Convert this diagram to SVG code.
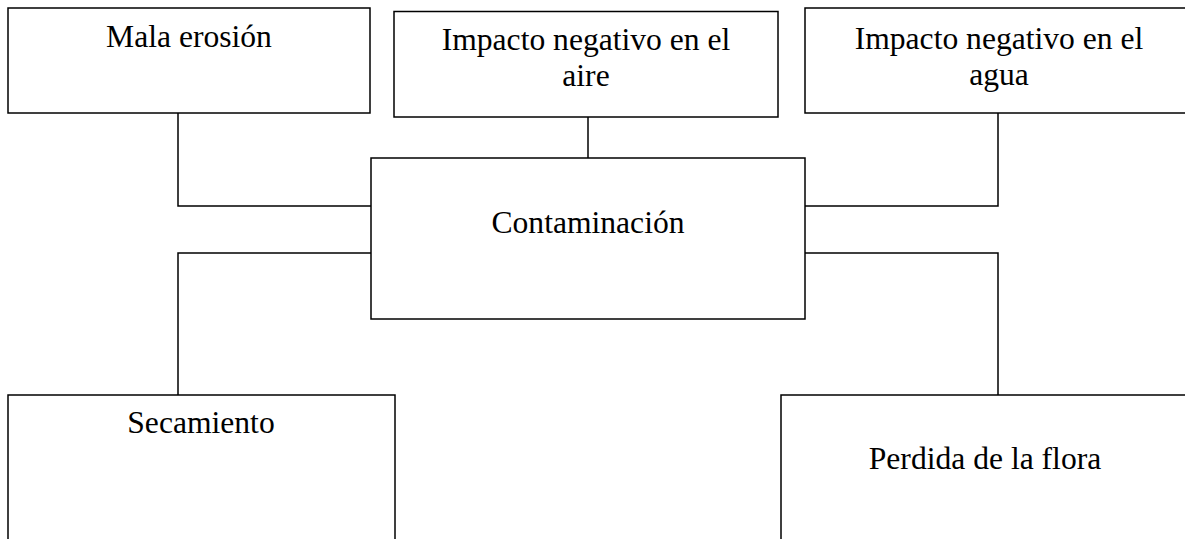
<svg xmlns="http://www.w3.org/2000/svg" width="1185" height="539" viewBox="0 0 1185 539">
<style>
.box{fill:#fff;stroke:#000;stroke-width:1.5}
.ln{fill:none;stroke:#000;stroke-width:1.5}
text{font-family:"Liberation Serif","Times New Roman",serif;font-size:31.6px;fill:#000;text-anchor:middle}
</style>
<rect width="1185" height="539" fill="#fff"/>
<g id="connectors">
<path class="ln" d="M178 112 V206 H371"/>
<path class="ln" d="M588 116 V158"/>
<path class="ln" d="M998 112 V206 H805"/>
<path class="ln" d="M371 253 H178 V397"/>
<path class="ln" d="M805 253 H998 V397"/>
</g>
<g id="n-mala">
<rect class="box" x="8" y="8" width="362" height="105"/>
<text x="189" y="47">Mala erosión</text>
</g>
<g id="n-aire">
<rect class="box" x="394" y="11.5" width="384" height="105.5"/>
<text x="586" y="50">Impacto negativo en el</text>
<text x="586" y="86">aire</text>
</g>
<g id="n-agua">
<rect class="box" x="805" y="8" width="388" height="105"/>
<text x="999" y="49">Impacto negativo en el</text>
<text x="999" y="85">agua</text>
</g>
<g id="n-contaminacion">
<rect class="box" x="371" y="158" width="434" height="161"/>
<text x="588" y="233">Contaminación</text>
</g>
<g id="n-secamiento">
<rect class="box" x="8" y="395" width="387" height="160"/>
<text x="201" y="433">Secamiento</text>
</g>
<g id="n-perdida">
<rect class="box" x="781" y="395" width="408" height="160"/>
<text x="985" y="469">Perdida de la flora</text>
</g>
</svg>
